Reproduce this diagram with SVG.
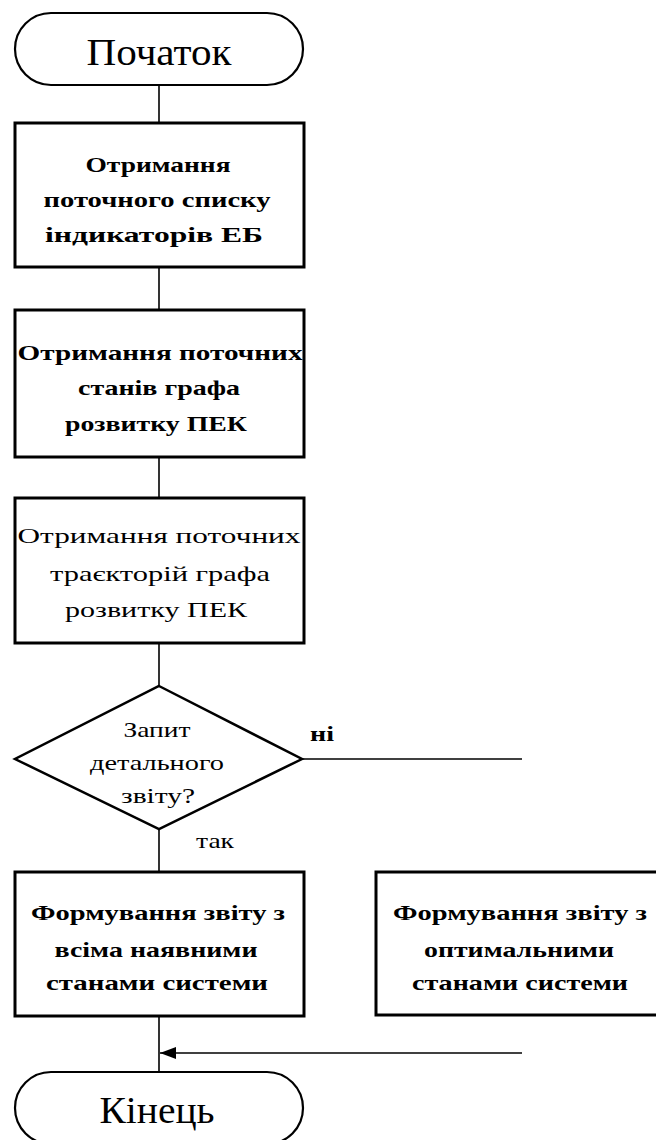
<svg xmlns="http://www.w3.org/2000/svg" width="656" height="1140" viewBox="0 0 656 1140">
<style>
.bg{fill:#ffffff}
.term{fill:#ffffff;stroke:#000;stroke-width:2.2}
.box{fill:#ffffff;stroke:#000;stroke-width:3}
.dec{fill:#ffffff;stroke:#000;stroke-width:2.5}
.ln{fill:none;stroke:#000;stroke-width:1.6}
text{font-family:'Liberation Serif',serif;fill:#000}
.tt{font-size:38px;text-anchor:middle}
.bt{font-size:22px;font-weight:bold;text-anchor:middle}
.nt{font-size:22px;text-anchor:middle}
.lb{font-size:22px;font-weight:bold;text-anchor:start}
</style>
<defs>
<marker id="ah" viewBox="0 0 16 12" refX="16" refY="6" markerWidth="16" markerHeight="12" markerUnits="userSpaceOnUse" orient="auto">
<path d="M0,0 L16,6 L0,12 Z" fill="#000"/>
</marker>
</defs>
<rect class="bg" x="0" y="0" width="656" height="1140"/>

<g id="connectors">
<line class="ln" x1="159" y1="85" x2="159" y2="123"/>
<line class="ln" x1="159" y1="267" x2="159" y2="310"/>
<line class="ln" x1="159" y1="457" x2="159" y2="498"/>
<line class="ln" x1="159" y1="643" x2="159" y2="686"/>
<line class="ln" x1="159" y1="829" x2="159" y2="872"/>
<line class="ln" x1="302" y1="759" x2="522" y2="759"/>
<line class="ln" x1="159" y1="1016" x2="159" y2="1072"/>
<line class="ln" x1="522" y1="1053" x2="160" y2="1053" marker-end="url(#ah)"/>
<text class="lb" x="310" y="741" textLength="24" lengthAdjust="spacingAndGlyphs">ні</text>
<text class="nt" x="196" y="848" style="text-anchor:start" textLength="38" lengthAdjust="spacingAndGlyphs">так</text>
</g>

<g id="start">
<rect class="term" x="15" y="13" width="288" height="72" rx="36" ry="36"/>
<text class="tt" x="159" y="65" textLength="145" lengthAdjust="spacingAndGlyphs">Початок</text>
</g>

<g id="box1">
<rect class="box" x="15" y="123" width="289" height="144"/>
<text class="bt" x="158" y="172" textLength="145" lengthAdjust="spacingAndGlyphs">Отримання</text>
<text class="bt" x="157" y="207" textLength="227" lengthAdjust="spacingAndGlyphs">поточного списку</text>
<text class="bt" x="154" y="242" textLength="218" lengthAdjust="spacingAndGlyphs">індикаторів ЕБ</text>
</g>

<g id="box2">
<rect class="box" x="15" y="310" width="289" height="147"/>
<text class="bt" x="160" y="360" textLength="285" lengthAdjust="spacingAndGlyphs">Отримання поточних</text>
<text class="bt" x="159" y="395" textLength="162" lengthAdjust="spacingAndGlyphs">станів графа</text>
<text class="bt" x="156" y="431" textLength="182" lengthAdjust="spacingAndGlyphs">розвитку ПЕК</text>
</g>

<g id="box3">
<rect class="box" x="15" y="498" width="289" height="145"/>
<text class="nt" x="159" y="543" textLength="283" lengthAdjust="spacingAndGlyphs">Отримання поточних</text>
<text class="nt" x="160" y="581" textLength="220" lengthAdjust="spacingAndGlyphs">траєкторій графа</text>
<text class="nt" x="156" y="617" textLength="182" lengthAdjust="spacingAndGlyphs">розвитку ПЕК</text>
</g>

<g id="decision">
<polygon class="dec" points="159,686 302,759 159,829 15,759"/>
<text class="nt" x="157" y="737" textLength="67" lengthAdjust="spacingAndGlyphs">Запит</text>
<text class="nt" x="157" y="770" textLength="134" lengthAdjust="spacingAndGlyphs">детального</text>
<text class="nt" x="158" y="803" textLength="74" lengthAdjust="spacingAndGlyphs">звіту?</text>
</g>

<g id="box4">
<rect class="box" x="15" y="872" width="289" height="144"/>
<text class="bt" x="158" y="920" textLength="254" lengthAdjust="spacingAndGlyphs">Формування звіту з</text>
<text class="bt" x="156" y="957" textLength="203" lengthAdjust="spacingAndGlyphs">всіма наявними</text>
<text class="bt" x="157" y="990" textLength="222" lengthAdjust="spacingAndGlyphs">станами системи</text>
</g>

<g id="box5">
<rect class="box" x="376" y="872" width="290" height="143"/>
<text class="bt" x="520" y="920" textLength="254" lengthAdjust="spacingAndGlyphs">Формування звіту з</text>
<text class="bt" x="519" y="957" textLength="190" lengthAdjust="spacingAndGlyphs">оптимальними</text>
<text class="bt" x="520" y="990" textLength="216" lengthAdjust="spacingAndGlyphs">станами системи</text>
</g>

<g id="end">
<rect class="term" x="15" y="1072" width="288" height="72" rx="36" ry="36"/>
<text class="tt" x="157" y="1123" textLength="115" lengthAdjust="spacingAndGlyphs">Кінець</text>
</g>
</svg>
